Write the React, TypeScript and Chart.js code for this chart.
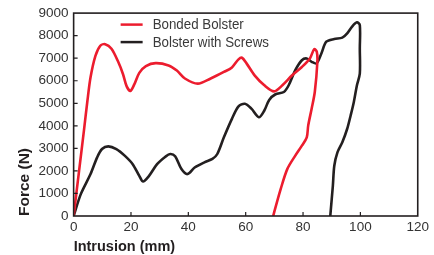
import React, { useEffect, useRef } from "react";
import { Chart, registerables } from "chart.js";

Chart.register(...registerables);

const seriesNames = ["Bonded Bolster", "Bolster with Screws"];
const seriesColors = ["#ec1c2e", "#231f20"];

const bondedX = [0, 1.9, 3.6, 4.8, 5.9, 7.6, 9.3, 11, 13.2, 15.5, 17.2, 18.5, 19.8, 21.2, 22.9, 25.2, 28.6, 33.1, 36, 38.8, 43.3, 47.8, 52.4, 55.2, 57.5, 58.7, 60.3, 63.1, 66.5, 69.9, 72.8, 76.2, 79.6, 82.4, 83.9, 84.8, 85, 84.1, 83, 81.8, 81.3, 79.6, 77.3, 74.5, 72.2, 69.9, 69.6];
const bondedY = [0, 2000, 3800, 5100, 6150, 7100, 7550, 7620, 7420, 6850, 6300, 5750, 5550, 5850, 6350, 6650, 6780, 6680, 6450, 6100, 5870, 6100, 6390, 6590, 6950, 7020, 6770, 6240, 5800, 5530, 5800, 6240, 6610, 6990, 7400, 7280, 6840, 5500, 4760, 4010, 3490, 3120, 2680, 2080, 1190, 150, 0];

const screwsX = [0, 2.5, 5.9, 8.2, 9.9, 12.1, 14.9, 17.8, 20.6, 22.9, 24.2, 26.3, 29.1, 32, 33.7, 35.4, 37.6, 39.7, 42.2, 45.6, 48.4, 50.1, 52.4, 55.2, 57.5, 59.7, 62, 64.6, 66.5, 68.2, 70.4, 73.3, 75, 77.3, 79.6, 81.3, 83, 84.7, 86.4, 88.1, 90.9, 93.7, 95.4, 97.1, 98.8, 99.8, 99.8, 99.8, 98.8, 97.7, 96.6, 95.4, 93.7, 92, 90.9, 90.4, 89.6, 89.5];
const screwsY = [0, 970, 1860, 2600, 2970, 3090, 2970, 2680, 2300, 1780, 1530, 1780, 2300, 2630, 2750, 2650, 2080, 1860, 2150, 2380, 2530, 2750, 3490, 4310, 4860, 4980, 4760, 4380, 4680, 5150, 5400, 5500, 5800, 6470, 6910, 6990, 6840, 6770, 7210, 7730, 7850, 7910, 8100, 8400, 8590, 8470, 7430, 6320, 5800, 5050, 4460, 3870, 3270, 2820, 2230, 1340, 150, 0];

const xTicks = [0, 20, 40, 60, 80, 100, 120];
const yTicks = [0, 1000, 2000, 3000, 4000, 5000, 6000, 7000, 8000, 9000];
const xTitle = "Intrusion (mm)";
const yTitle = "Force (N)";

const FONT = '"Liberation Sans", Arial, sans-serif';

const boxPlugin = {
  id: "boxAndTicks",
  afterDraw(chart: any) {
    const { ctx, chartArea } = chart;
    const xs = chart.scales.x;
    const ys = chart.scales.y;
    ctx.save();
    ctx.strokeStyle = "#231f20";
    ctx.lineWidth = 1.6;
    ctx.strokeRect(chartArea.left, chartArea.top, chartArea.right - chartArea.left, chartArea.bottom - chartArea.top);
    ctx.lineWidth = 1.2;
    ctx.beginPath();
    xTicks.forEach((v) => {
      if (v === 0 || v === 120) return;
      const px = xs.getPixelForValue(v);
      ctx.moveTo(px, chartArea.bottom);
      ctx.lineTo(px, chartArea.bottom - 4);
    });
    yTicks.forEach((v) => {
      if (v === 0 || v === 9000) return;
      const py = ys.getPixelForValue(v);
      ctx.moveTo(chartArea.left, py);
      ctx.lineTo(chartArea.left + 4, py);
    });
    ctx.stroke();

    // legend
    ctx.font = `15.5px ${FONT}`;
    ctx.textBaseline = "middle";
    ctx.textAlign = "left";
    const lx = chartArea.left + 47;
    const rows = [chartArea.top + 11.5, chartArea.top + 29];
    seriesNames.forEach((name, i) => {
      ctx.strokeStyle = seriesColors[i];
      ctx.lineWidth = 2.5;
      ctx.beginPath();
      ctx.moveTo(lx, rows[i]);
      ctx.lineTo(lx + 22, rows[i]);
      ctx.stroke();
      ctx.fillStyle = "#3a3a3a";
      ctx.save();
      ctx.translate(lx + 32, rows[i] + 0.5);
      ctx.scale(0.86, 1);
      ctx.fillText(name, 0, 0);
      ctx.restore();
    });
    ctx.restore();
  },
};

export default function App() {
  const ref = useRef<HTMLCanvasElement>(null);
  useEffect(() => {
    if (!ref.current) return;
    const mk = (xs: number[], ys: number[]) => xs.map((x, i) => ({ x, y: ys[i] }));
    const chart = new Chart(ref.current, {
      type: "scatter",
      data: {
        datasets: [
          {
            label: seriesNames[0],
            data: mk(bondedX, bondedY),
            showLine: true,
            borderColor: seriesColors[0],
            borderWidth: 2.6,
            pointRadius: 0,
            tension: 0.3,
          },
          {
            label: seriesNames[1],
            data: mk(screwsX, screwsY),
            showLine: true,
            borderColor: seriesColors[1],
            borderWidth: 2.6,
            pointRadius: 0,
            tension: 0.3,
          },
        ],
      },
      options: {
        animation: false,
        responsive: false,
        maintainAspectRatio: false,
        layout: { padding: { left: 11, top: 4, right: -5, bottom: 0 } },
        plugins: { legend: { display: false }, tooltip: { enabled: false } },
        scales: {
          x: {
            type: "linear",
            min: 0,
            max: 120,
            grid: { display: false, drawTicks: false },
            border: { display: false },
            afterBuildTicks: (s: any) => { s.ticks = xTicks.map((v) => ({ value: v })); },
            ticks: { color: "#333333", font: { family: FONT, size: 13.5, lineHeight: 1 }, padding: 5, maxRotation: 0, callback: (v: any) => String(v) },
            title: { display: true, text: xTitle, align: "start", color: "#231f20", font: { family: FONT, size: 14.5, weight: "bold", lineHeight: 1 }, padding: { top: 0, bottom: 1 } },
          },
          y: {
            type: "linear",
            min: 0,
            max: 9000,
            grid: { display: false, drawTicks: false },
            border: { display: false },
            afterBuildTicks: (s: any) => { s.ticks = yTicks.map((v) => ({ value: v })); },
            ticks: { color: "#333333", font: { family: FONT, size: 13.5 }, padding: 5, callback: (v: any) => String(v) },
            title: { display: true, text: yTitle, align: "start", color: "#231f20", font: { family: FONT, size: 15.5, weight: "bold" }, padding: { top: 4, bottom: 0 } },
          },
        },
      },
      plugins: [boxPlugin],
    } as any);
    return () => chart.destroy();
  }, []);
  return (
    <div style={{ position: "fixed", left: 0, top: 0, width: 434, height: 255, background: "#fff" }}>
      <canvas ref={ref} width={434} height={255} style={{ width: 434, height: 255, display: "block" }} />
    </div>
  );
}
